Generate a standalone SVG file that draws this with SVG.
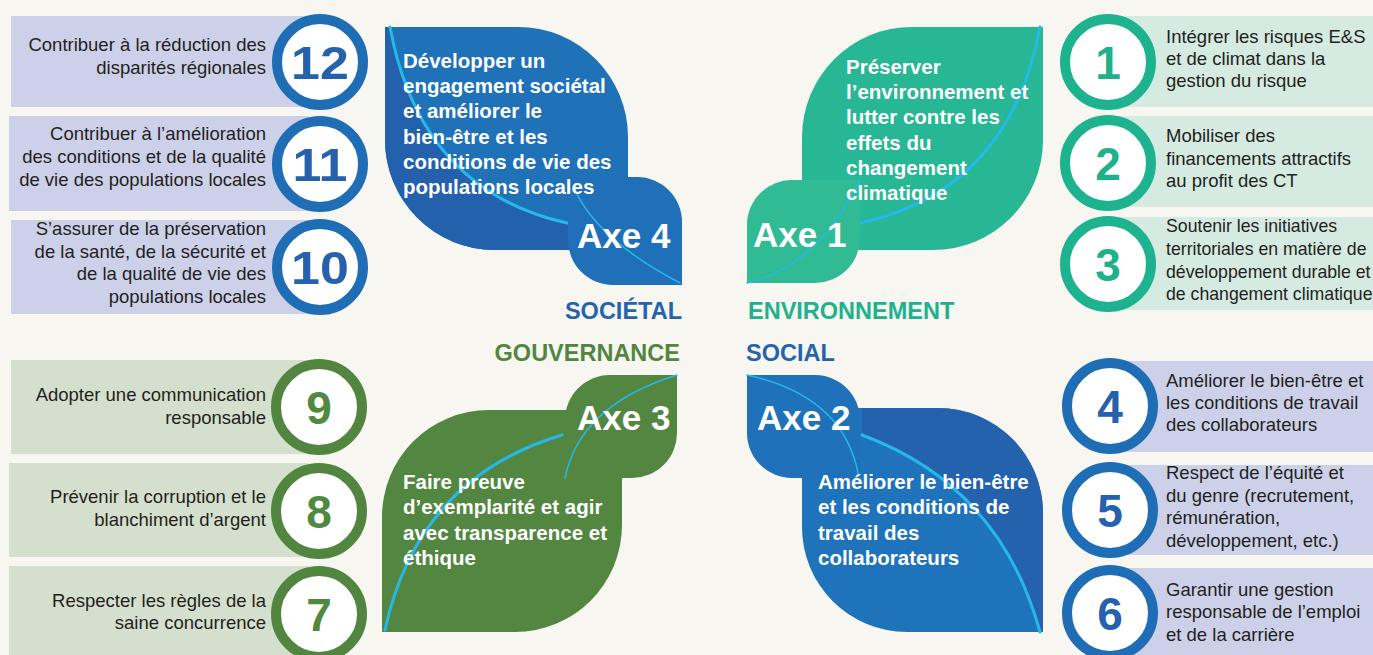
<svg xmlns="http://www.w3.org/2000/svg" width="1373" height="655" viewBox="0 0 1373 655">
<style>
text{font-family:"Liberation Sans",Arial,Helvetica,sans-serif}
.it{font-size:18.5px;fill:#231f20}
.sm{font-size:17.7px}
.r{text-anchor:end}
.num{font-size:46px;font-weight:bold;text-anchor:middle}
.ring{fill:#fff;stroke-width:10}
.lt{font-size:20.5px;font-weight:bold;fill:#fff}
.axe{font-size:35px;font-weight:bold;fill:#fff}
.vein{fill:none;stroke:#27b8ea;stroke-linecap:round}
.thick{stroke-width:3}
.thin{stroke-width:1.5}
.cat{font-size:23.5px;font-weight:bold}
.lav{fill:#ccd1e9}
.mint{fill:#d5ebe1}
.sage{fill:#d5dfcd}
.bR{stroke:#1e6db5}.bN{fill:#2561ad}
.tR{stroke:#1db38e}.tN{fill:#1fb08c}
.gR{stroke:#528540}.gN{fill:#4f8a3e}
</style>
<defs>
<clipPath id="c4"><path d="M385,27 H518 A110,110 0 0 1 628,137 V250 H495 A110,110 0 0 1 385,140 Z"/></clipPath>
<clipPath id="c2"><path d="M802,408 H938 A105,105 0 0 1 1043,513 V632 H907 A105,105 0 0 1 802,527 Z"/></clipPath>
</defs>
<rect width="1373" height="655" fill="#f7f6f1"/>

<!-- Left top list -->
<g id="item12"><rect class="lav" x="11" y="16" width="300" height="91"/><text class="it r" x="266" y="51">Contribuer à la réduction des</text><text class="it r" x="266" y="74">disparités régionales</text><circle class="ring bR" cx="320" cy="62" r="43"/><text class="num bN" transform="translate(320,78.5) scale(1.13,1)">12</text></g>
<g id="item11"><rect class="lav" x="9" y="116" width="300" height="95"/><text class="it r" x="266" y="140">Contribuer à l’amélioration</text><text class="it r" x="266" y="163">des conditions et de la qualité</text><text class="it r" x="266" y="186">de vie des populations locales</text><circle class="ring bR" cx="320" cy="164" r="43"/><text class="num bN" transform="translate(320,180.5) scale(1.13,1)">11</text></g>
<g id="item10"><rect class="lav" x="11" y="220" width="300" height="94"/><text class="it r" x="266" y="235">S’assurer de la préservation</text><text class="it r" x="266" y="258">de la santé, de la sécurité et</text><text class="it r" x="266" y="280">de la qualité de vie des</text><text class="it r" x="266" y="303">populations locales</text><circle class="ring bR" cx="320" cy="267" r="43"/><text class="num bN" transform="translate(320,283.5) scale(1.13,1)">10</text></g>

<!-- Left bottom list -->
<g id="item9"><rect class="sage" x="11" y="360" width="300" height="94"/><text class="it r" x="266" y="401">Adopter une communication</text><text class="it r" x="266" y="424">responsable</text><circle class="ring gR" cx="319" cy="407" r="43"/><text class="num gN" x="319" y="423.5">9</text></g>
<g id="item8"><rect class="sage" x="9" y="463" width="300" height="94"/><text class="it r" x="266" y="503">Prévenir la corruption et le</text><text class="it r" x="266" y="526">blanchiment d’argent</text><circle class="ring gR" cx="319" cy="511" r="43"/><text class="num gN" x="319" y="527.5">8</text></g>
<g id="item7"><rect class="sage" x="9" y="566" width="300" height="89"/><text class="it r" x="266" y="607">Respecter les règles de la</text><text class="it r" x="266" y="629">saine concurrence</text><circle class="ring gR" cx="319" cy="614" r="43"/><text class="num gN" x="319" y="630.5">7</text></g>

<!-- Right top list -->
<g id="item1"><rect class="mint" x="1108" y="16" width="265" height="91"/><text class="it" x="1166" y="43">Intégrer les risques E&amp;S</text><text class="it" x="1166" y="65">et de climat dans la</text><text class="it" x="1166" y="87">gestion du risque</text><circle class="ring tR" cx="1108" cy="62" r="43"/><text class="num tN" x="1108" y="78.5">1</text></g>
<g id="item2"><rect class="mint" x="1108" y="116" width="265" height="91"/><text class="it" x="1166" y="142">Mobiliser des</text><text class="it" x="1166" y="165">financements attractifs</text><text class="it" x="1166" y="187">au profit des CT</text><circle class="ring tR" cx="1108" cy="163" r="43"/><text class="num tN" x="1108" y="179.5">2</text></g>
<g id="item3"><rect class="mint" x="1108" y="217" width="265" height="93"/><text class="it sm" x="1166" y="232">Soutenir les initiatives</text><text class="it sm" x="1166" y="255">territoriales en matière de</text><text class="it sm" x="1166" y="278">développement durable et</text><text class="it sm" x="1166" y="300">de changement climatique</text><circle class="ring tR" cx="1108" cy="264" r="43"/><text class="num tN" x="1108" y="280.5">3</text></g>

<!-- Right bottom list -->
<g id="item4"><rect class="lav" x="1110" y="361" width="263" height="91"/><text class="it" x="1166" y="387">Améliorer le bien-être et</text><text class="it" x="1166" y="409">les conditions de travail</text><text class="it" x="1166" y="431">des collaborateurs</text><circle class="ring bR" cx="1110" cy="406" r="43"/><text class="num bN" x="1110" y="422.5">4</text></g>
<g id="item5"><rect class="lav" x="1110" y="465" width="263" height="90"/><text class="it" x="1166" y="479">Respect de l’équité et</text><text class="it" x="1166" y="502">du genre (recrutement,</text><text class="it" x="1166" y="524">rémunération,</text><text class="it" x="1166" y="547">développement, etc.)</text><circle class="ring bR" cx="1110" cy="510" r="43"/><text class="num bN" x="1110" y="526.5">5</text></g>
<g id="item6"><rect class="lav" x="1110" y="568" width="263" height="87"/><text class="it" x="1166" y="596">Garantir une gestion</text><text class="it" x="1166" y="618">responsable de l’emploi</text><text class="it" x="1166" y="641">et de la carrière</text><circle class="ring bR" cx="1110" cy="613" r="43"/><text class="num bN" x="1110" y="629.5">6</text></g>

<!-- Axe 4 -->
<g id="axe4">
<path d="M385,27 H518 A110,110 0 0 1 628,137 V250 H495 A110,110 0 0 1 385,140 Z" fill="#1f71b8"/>
<path clip-path="url(#c4)" d="M390,27 Q420,190 567,223 L700,223 L700,300 L370,300 L370,20 Z" fill="#2361ad"/>
<path class="vein thick" d="M390,27 Q420,190 567,223"/>
<path d="M568,177 H637 A45,45 0 0 1 682,222 V285 H613 A45,45 0 0 1 568,240 Z" fill="#1f70b8"/>
<path class="vein thin" d="M575,190 Q598,240 680,283"/>
<text class="lt" x="403" y="68">Développer un</text>
<text class="lt" x="403" y="93">engagement sociétal</text>
<text class="lt" x="403" y="118">et améliorer le</text>
<text class="lt" x="403" y="144">bien-être et les</text>
<text class="lt" x="403" y="169">conditions de vie des</text>
<text class="lt" x="403" y="194">populations locales</text>
<text class="axe" x="577" y="248">Axe 4</text>
</g>

<!-- Axe 1 -->
<g id="axe1">
<path d="M802,250 V137 A110,110 0 0 1 912,27 H1043 V140 A110,110 0 0 1 933,250 Z" fill="#27b794"/>
<path class="vein thick" d="M1040,27 Q1010,190 860,223"/>
<path d="M747,283 V225 A45,45 0 0 1 792,180 H860 V238 A45,45 0 0 1 815,283 Z" fill="#31bb95"/>
<path class="vein thin" d="M860,180 Q816,268 747,283"/>
<text class="lt" x="846" y="74">Préserver</text>
<text class="lt" x="846" y="99">l’environnement et</text>
<text class="lt" x="846" y="124">lutter contre les</text>
<text class="lt" x="846" y="150">effets du</text>
<text class="lt" x="846" y="175">changement</text>
<text class="lt" x="846" y="200">climatique</text>
<text class="axe" x="753" y="247">Axe 1</text>
</g>

<!-- Axe 3 -->
<g id="axe3">
<path d="M382,632 V517 A107,107 0 0 1 489,410 H622 V525 A107,107 0 0 1 515,632 Z" fill="#538641"/>
<path class="vein thick" d="M385,630 Q418,478 562,435"/>
<path d="M565,478 V420 A45,45 0 0 1 610,375 H677 V433 A45,45 0 0 1 632,478 Z" fill="#538641"/>
<path class="vein thin" d="M565,478 Q580,405 677,375"/>
<text class="lt" x="403" y="489">Faire preuve</text>
<text class="lt" x="403" y="514">d’exemplarité et agir</text>
<text class="lt" x="403" y="540">avec transparence et</text>
<text class="lt" x="403" y="565">éthique</text>
<text class="axe" x="577" y="430">Axe 3</text>
</g>

<!-- Axe 2 -->
<g id="axe2">
<path d="M802,408 H938 A105,105 0 0 1 1043,513 V632 H907 A105,105 0 0 1 802,527 Z" fill="#1f73ba"/>
<path clip-path="url(#c2)" d="M862,435 Q1000,486 1040,632 L1060,640 L1060,400 L862,400 Z" fill="#2462ae"/>
<path class="vein thick" d="M862,435 Q1000,486 1040,632"/>
<path d="M747,375 H815 A45,45 0 0 1 860,420 V478 H792 A45,45 0 0 1 747,433 Z" fill="#1f72b9"/>
<path class="vein thin" d="M747,375 Q843,396 858,473"/>
<text class="lt" x="818" y="489">Améliorer le bien-être</text>
<text class="lt" x="818" y="514">et les conditions de</text>
<text class="lt" x="818" y="540">travail des</text>
<text class="lt" x="818" y="565">collaborateurs</text>
<text class="axe" x="757" y="430">Axe 2</text>
</g>

<g id="categories">
<text class="cat" x="682" y="319" text-anchor="end" fill="#2563ae">SOCIÉTAL</text>
<text class="cat" x="748" y="319" fill="#20b18d">ENVIRONNEMENT</text>
<text class="cat" x="680" y="361" text-anchor="end" fill="#528540">GOUVERNANCE</text>
<text class="cat" x="746" y="361" fill="#2563ae">SOCIAL</text>
</g>
</svg>
